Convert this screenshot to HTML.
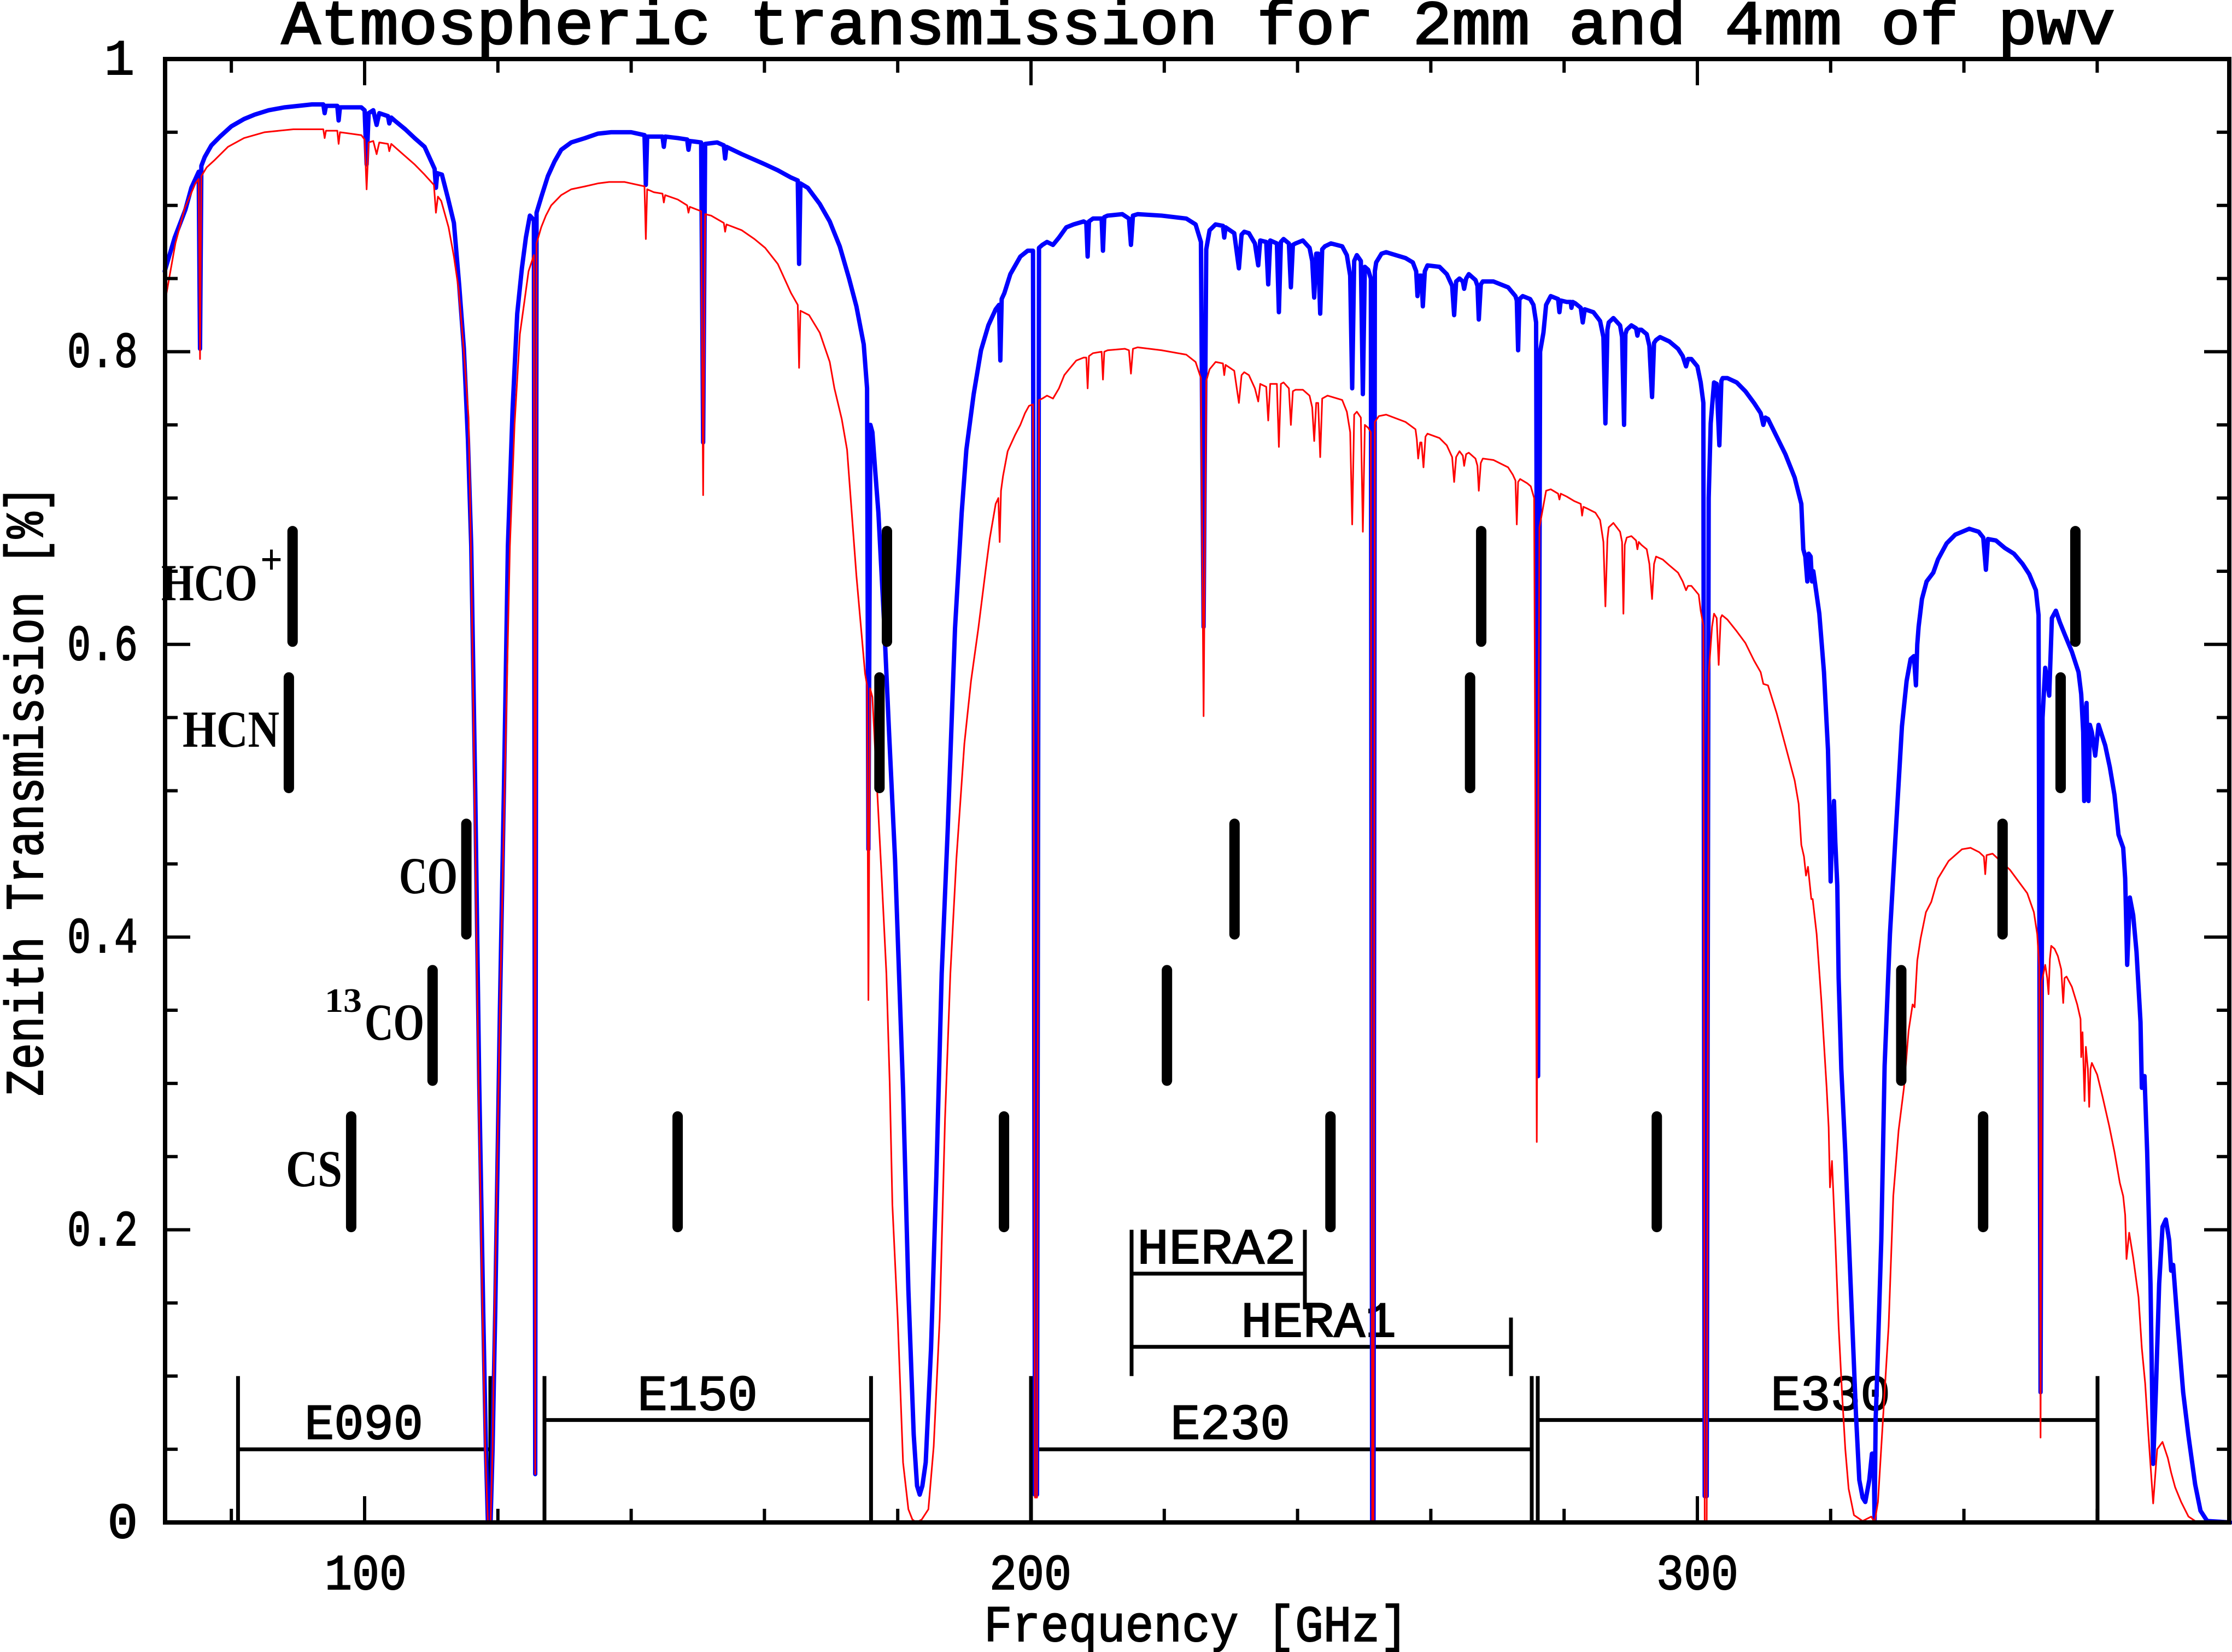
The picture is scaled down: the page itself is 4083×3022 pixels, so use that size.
<!DOCTYPE html>
<html>
<head>
<meta charset="utf-8">
<style>
html,body{margin:0;padding:0;background:#fff;}
svg{display:block;}
.mono{font-family:"Liberation Mono","DejaVu Sans Mono",monospace;fill:#000;stroke:#000;stroke-width:2;}
.serif{font-family:"Liberation Serif","DejaVu Serif",serif;font-weight:bold;fill:#000;}
</style>
</head>
<body>
<svg width="4083" height="3022" viewBox="0 0 4083 3022" xmlns="http://www.w3.org/2000/svg">
<rect x="0" y="0" width="4083" height="3022" fill="#fff"/>

<!-- Title -->
<text class="mono" x="515" y="80" font-size="114" style="stroke-width:3" textLength="3354" lengthAdjust="spacingAndGlyphs">Atmospheric transmission for 2mm and 4mm of pwv</text>

<!-- Axis titles -->
<text class="mono" x="1800" y="3002" font-size="94" textLength="776" lengthAdjust="spacingAndGlyphs">Frequency [GHz]</text>
<text class="mono" transform="translate(78,2005) rotate(-90)" x="0" y="0" font-size="98" textLength="1117" lengthAdjust="spacingAndGlyphs">Zenith Transmission [%]</text>

<!-- Y tick labels -->
<g class="mono" font-size="92" text-anchor="end">
<text x="246" y="136">1</text>
<text x="252" y="671" textLength="129" lengthAdjust="spacingAndGlyphs">0.8</text>
<text x="252" y="1207" textLength="129" lengthAdjust="spacingAndGlyphs">0.6</text>
<text x="252" y="1742" textLength="129" lengthAdjust="spacingAndGlyphs">0.4</text>
<text x="252" y="2278" textLength="129" lengthAdjust="spacingAndGlyphs">0.2</text>
<text x="252" y="2813">0</text>
</g>
<!-- X tick labels -->
<g class="mono" font-size="92" text-anchor="middle">
<text x="669" y="2907" textLength="150" lengthAdjust="spacingAndGlyphs">100</text>
<text x="1885" y="2907" textLength="150" lengthAdjust="spacingAndGlyphs">200</text>
<text x="3105" y="2907" textLength="150" lengthAdjust="spacingAndGlyphs">300</text>
</g>

<!-- Receiver brackets -->
<path fill="none" stroke="#000" stroke-width="7" d="
M435.4 2517.3V2785M897 2517.3V2785M435.4 2651.2H897
M996 2517.3V2785M1593.4 2517.3V2785M996 2597.6H1593.4
M1886 2517.3V2785M2802 2517.3V2785M1886 2651.2H2802
M2813 2517.3V2785M3837 2517.3V2785M2813 2597.6H3837
M2070 2249.6V2517.3M2070 2329.9H2387M2387 2249.6V2395
M2070 2463.8H2764M2764 2410.2V2517.3"/>
<g class="mono" font-size="92">
<text x="557" y="2632" textLength="217" lengthAdjust="spacingAndGlyphs">E090</text>
<text x="1166" y="2579" textLength="220" lengthAdjust="spacingAndGlyphs">E150</text>
<text x="2141" y="2632" textLength="219" lengthAdjust="spacingAndGlyphs">E230</text>
<text x="3239" y="2579" textLength="219" lengthAdjust="spacingAndGlyphs">E330</text>
<text x="2080" y="2311" textLength="291" lengthAdjust="spacingAndGlyphs">HERA2</text>
<text x="2270" y="2445" textLength="284" lengthAdjust="spacingAndGlyphs">HERA1</text>
</g>

<!-- Curves -->
<g transform="matrix(12.19 0 0 -2677 -552 2785)" fill="none" stroke-linejoin="round" stroke-linecap="round">
<polyline vector-effect="non-scaling-stroke" stroke="#0000ff" stroke-width="8" points="70,0.855 71.5,0.878 73.1,0.897 74,0.912 75.1,0.923 75.3,0.802 75.5,0.927 76,0.933 77,0.941 78.3,0.947 80,0.954 81.9,0.959 83.5,0.962 85.6,0.965 88,0.967 92.1,0.969 93.8,0.969 94,0.963 94.2,0.968 95.9,0.968 96.1,0.958 96.3,0.967 99.5,0.967 100,0.965 100.3,0.928 100.6,0.963 101.3,0.965 101.8,0.955 102.2,0.963 103.5,0.961 103.7,0.956 104,0.96 104.5,0.958 106.1,0.952 107.5,0.946 109,0.94 110,0.93 110.5,0.925 110.7,0.912 110.9,0.922 111.6,0.921 112.5,0.905 113.4,0.888 114.2,0.845 114.9,0.802 115.5,0.74 116,0.667 116.6,0.5 117.2,0.3 117.8,0.144 118.2,0.05 118.5,0 118.9,0 119.2,0.05 119.6,0.144 120.3,0.35 120.9,0.5 121.5,0.667 122.2,0.76 122.9,0.826 123.6,0.857 124.2,0.878 124.8,0.893 125.4,0.89 125.6,0.033 125.8,0.895 126.6,0.907 127.5,0.92 128.5,0.93 129.5,0.938 131,0.943 133.1,0.946 135,0.949 137,0.95 140,0.95 142,0.948 142.2,0.914 142.4,0.947 144.7,0.947 144.9,0.94 145.1,0.947 147,0.946 148.4,0.945 148.6,0.938 148.8,0.944 150.5,0.943 150.8,0.738 151.1,0.942 152.9,0.943 153.9,0.941 154.1,0.932 154.3,0.94 156.6,0.935 160.1,0.928 162,0.924 164,0.919 165,0.917 165.2,0.86 165.4,0.915 166.5,0.912 168.3,0.901 169.8,0.889 171.3,0.872 172.7,0.85 173.8,0.831 174.9,0.805 175.4,0.775 175.6,0.46 175.9,0.75 176.2,0.745 176.6,0.72 177.1,0.69 178,0.611 178.7,0.54 179.6,0.453 180.8,0.296 181.6,0.159 182.4,0.06 182.9,0.025 183.3,0.019 183.7,0.025 184.2,0.041 185,0.119 185.8,0.237 186.6,0.375 187.5,0.473 188.6,0.611 189.6,0.69 190.3,0.733 191.4,0.771 192.5,0.801 193.6,0.818 194.7,0.829 195.2,0.832 195.4,0.794 195.6,0.836 196,0.84 196.9,0.853 198.4,0.865 199.5,0.869 200.3,0.869 200.6,0.019 200.9,0.019 201.2,0.871 201.7,0.873 202.4,0.875 203.3,0.873 204.2,0.878 205.3,0.885 206.4,0.887 207.9,0.889 208.3,0.888 208.5,0.865 208.7,0.889 209.3,0.891 210.6,0.891 210.8,0.869 211,0.892 211.5,0.893 213.7,0.894 214.7,0.891 215,0.873 215.3,0.893 216,0.894 219.6,0.893 223.3,0.891 224.7,0.887 225.5,0.875 225.9,0.612 226.3,0.87 226.8,0.883 227.7,0.887 228.8,0.886 229,0.878 229.2,0.885 230.5,0.881 231.2,0.857 231.6,0.88 232,0.882 232.7,0.881 233.6,0.874 234.1,0.859 234.4,0.876 235.3,0.875 235.6,0.846 235.9,0.876 236.9,0.874 237.2,0.827 237.5,0.875 237.9,0.877 238.7,0.874 239,0.844 239.3,0.873 239.7,0.874 240.8,0.876 241.8,0.871 242.2,0.862 242.5,0.837 242.8,0.867 243.1,0.867 243.4,0.826 243.7,0.87 244.1,0.872 245,0.874 246.7,0.872 247.4,0.866 247.9,0.852 248.2,0.775 248.5,0.862 248.9,0.866 249.5,0.862 249.8,0.771 250.1,0.858 250.6,0.856 251,0.85 251.2,0 251.4,0 251.6,0.855 251.8,0.861 252.6,0.867 253.3,0.868 256.2,0.864 257.3,0.861 257.8,0.855 258,0.838 258.3,0.852 258.6,0.852 258.8,0.831 259.1,0.855 259.5,0.859 261.3,0.858 262.4,0.853 263.2,0.845 263.5,0.825 263.8,0.848 264.3,0.85 264.8,0.848 265,0.843 265.3,0.85 265.7,0.853 266.7,0.849 267,0.845 267.2,0.822 267.5,0.846 267.8,0.848 269.4,0.848 271.6,0.844 272.7,0.838 272.9,0.835 273.1,0.801 273.3,0.836 273.8,0.838 274.9,0.836 275.4,0.832 275.8,0.82 276.1,0.305 276.4,0.8 276.9,0.813 277.3,0.832 278,0.838 279.1,0.836 279.3,0.827 279.5,0.835 280.4,0.834 281,0.834 281.1,0.83 281.3,0.834 281.7,0.833 282.5,0.83 282.8,0.82 283.1,0.829 284.4,0.827 285.4,0.821 285.9,0.81 286.2,0.751 286.5,0.815 286.7,0.82 287.4,0.823 288.4,0.818 288.7,0.81 289,0.75 289.2,0.812 289.4,0.815 290.1,0.818 290.8,0.816 291,0.811 291.2,0.815 291.6,0.815 292.4,0.812 292.8,0.804 293.2,0.769 293.5,0.806 293.8,0.808 294.4,0.81 295.8,0.807 297.1,0.802 297.8,0.797 298.3,0.79 298.6,0.795 299.1,0.795 300,0.79 300.5,0.779 300.9,0.765 301.1,0.018 301.4,0.018 301.7,0.7 302,0.751 302.5,0.779 302.9,0.778 303.3,0.736 303.6,0.78 303.8,0.782 304.5,0.782 305.9,0.779 307.2,0.773 308.5,0.765 309.5,0.758 309.9,0.75 310.2,0.755 310.6,0.754 311.9,0.742 313.2,0.73 314.6,0.714 315.6,0.696 315.9,0.665 316.2,0.66 316.5,0.643 316.7,0.662 317,0.66 317.2,0.643 317.4,0.65 318.3,0.621 319,0.581 319.6,0.528 319.8,0.49 320,0.438 320.2,0.47 320.5,0.493 320.7,0.465 321,0.435 321.2,0.372 321.6,0.31 322.2,0.253 323,0.163 323.8,0.074 324.3,0.029 324.8,0.017 325.2,0.014 325.8,0.029 326.2,0.047 326.45,0.047 326.6,0 326.75,0.07 326.9,0.089 327.6,0.193 328.1,0.312 328.7,0.38 328.9,0.402 329.7,0.466 330.7,0.544 331.4,0.575 332,0.59 332.5,0.592 332.8,0.572 333,0.6 333.2,0.612 333.7,0.631 334.4,0.643 335.4,0.649 336.1,0.658 337.4,0.669 338.7,0.675 340.8,0.679 342.2,0.677 342.9,0.673 343.3,0.651 343.6,0.672 344.8,0.671 346.1,0.666 347.5,0.662 348.8,0.655 349.8,0.648 350.8,0.637 351.2,0.62 351.5,0.089 351.8,0.55 352.2,0.584 352.8,0.565 353.2,0.618 353.8,0.623 354.4,0.615 355.2,0.606 356.2,0.595 357.2,0.581 357.6,0.566 357.9,0.54 358.05,0.493 358.2,0.55 358.4,0.56 358.7,0.493 358.9,0.545 359.2,0.54 359.7,0.524 360.2,0.545 361.2,0.531 361.9,0.516 362.6,0.497 363.2,0.47 363.9,0.461 364.2,0.44 364.5,0.381 364.9,0.427 365.4,0.415 365.9,0.39 366.5,0.342 366.7,0.297 367.1,0.305 367.5,0.253 368,0.163 368.4,0.04 368.8,0.089 369.3,0.163 369.8,0.202 370.3,0.207 370.8,0.193 371.1,0.172 371.4,0.176 372.1,0.134 372.9,0.089 373.7,0.059 374.7,0.026 375.5,0.008 376.5,0.001 380,0"/>
<polyline vector-effect="non-scaling-stroke" stroke="#ff0000" stroke-width="3" points="70,0.833 71.6,0.874 73,0.898 74.6,0.915 75.1,0.918 75.3,0.795 75.5,0.92 76.3,0.926 77.5,0.931 79.5,0.94 81.9,0.946 85,0.95 89.3,0.952 93.8,0.952 94,0.946 94.2,0.951 95.9,0.951 96.1,0.942 96.3,0.95 99.5,0.948 100,0.945 100.3,0.911 100.6,0.943 101.3,0.944 101.8,0.935 102.2,0.943 103.5,0.942 103.7,0.937 104,0.942 105.5,0.936 107.5,0.928 109,0.921 110.4,0.914 110.7,0.895 111,0.906 111.5,0.903 112.6,0.885 113.4,0.865 114.1,0.843 114.9,0.8 115.6,0.755 115.95,0.667 116.5,0.5 117.1,0.3 117.7,0.144 118.1,0.05 118.5,0 118.9,0 119.2,0.05 119.5,0.144 120.3,0.35 121,0.5 121.8,0.667 122.5,0.75 123.3,0.812 124,0.835 124.6,0.855 125.4,0.866 125.6,0.033 125.8,0.874 126.5,0.885 127.2,0.893 128,0.9 129.5,0.907 131,0.911 133.1,0.913 135,0.915 136.7,0.916 139,0.916 142,0.913 142.2,0.877 142.4,0.911 143.4,0.909 144.7,0.908 144.9,0.902 145.1,0.907 147,0.904 148.4,0.9 148.6,0.895 148.8,0.899 150.5,0.896 150.8,0.702 151.1,0.894 152,0.893 153.9,0.888 154.1,0.882 154.3,0.887 156.6,0.883 158.5,0.877 160.1,0.871 162,0.86 164,0.84 165,0.832 165.2,0.789 165.4,0.828 166.7,0.825 168.3,0.813 169.8,0.793 170.5,0.775 171.6,0.754 172.4,0.733 173.1,0.69 173.8,0.647 174.5,0.611 175.1,0.58 175.4,0.572 175.6,0.357 175.85,0.57 176.2,0.564 177,0.493 177.6,0.44 178.3,0.375 178.8,0.3 179.2,0.217 180,0.139 180.8,0.041 181.6,0.009 182.2,0.002 182.8,0 183.6,0.002 184.6,0.009 185.4,0.052 186.3,0.139 187.1,0.276 187.9,0.375 188.8,0.453 190,0.532 191,0.575 192.1,0.611 193.2,0.651 193.8,0.672 194.7,0.696 195.1,0.7 195.3,0.67 195.5,0.705 195.8,0.715 196.5,0.732 197.6,0.743 198.4,0.75 199.1,0.758 199.7,0.763 200.3,0.764 200.6,0.017 200.9,0.017 201.2,0.767 201.7,0.768 202.4,0.77 203.3,0.768 204.2,0.775 205,0.784 205.7,0.788 206.8,0.794 207.9,0.796 208.3,0.796 208.5,0.775 208.7,0.797 209.3,0.799 210.6,0.8 210.8,0.781 211,0.8 211.5,0.801 214.1,0.802 214.7,0.801 215,0.785 215.3,0.802 216,0.803 219.6,0.801 223.3,0.798 224.7,0.793 225.5,0.782 225.9,0.551 226.3,0.78 226.8,0.788 227.7,0.793 228.8,0.792 229,0.784 229.2,0.791 230.5,0.787 231.2,0.765 231.6,0.784 232,0.786 232.7,0.784 233.6,0.775 234.1,0.766 234.4,0.778 235.3,0.776 235.6,0.753 235.9,0.778 236.9,0.778 237.2,0.735 237.5,0.778 237.9,0.779 238.7,0.775 239,0.75 239.3,0.773 239.7,0.774 240.8,0.774 241.8,0.77 242.2,0.762 242.5,0.739 242.8,0.765 243.1,0.765 243.4,0.728 243.7,0.768 244.5,0.77 246.7,0.767 247.4,0.759 247.9,0.745 248.2,0.682 248.5,0.757 248.9,0.759 249.5,0.755 249.8,0.677 250.1,0.75 250.6,0.748 251,0.745 251.2,0 251.4,0 251.6,0.752 252.2,0.756 253.3,0.757 256.2,0.752 257.7,0.747 257.9,0.74 258.1,0.727 258.4,0.738 258.6,0.738 258.9,0.721 259.2,0.742 259.5,0.744 261.3,0.741 262.4,0.736 263.2,0.728 263.5,0.711 263.8,0.728 264.3,0.732 264.8,0.729 265,0.722 265.3,0.73 265.7,0.731 266.7,0.727 267,0.722 267.2,0.705 267.5,0.724 267.8,0.727 269.4,0.726 271.6,0.721 272.3,0.716 272.7,0.712 272.9,0.682 273.1,0.711 273.4,0.713 274.5,0.71 275,0.708 275.5,0.7 275.9,0.26 276.3,0.68 276.7,0.69 277.3,0.705 278,0.706 279.1,0.703 279.3,0.699 279.5,0.703 280.4,0.701 281.5,0.698 282.5,0.696 282.7,0.688 282.9,0.694 283.4,0.693 284.7,0.69 285.4,0.685 285.9,0.67 286.2,0.626 286.5,0.672 286.7,0.68 287.4,0.683 288.4,0.677 288.7,0.67 288.9,0.621 289.1,0.668 289.4,0.673 290.1,0.674 290.8,0.671 291,0.665 291.2,0.67 291.6,0.668 292.4,0.665 292.8,0.655 293.2,0.631 293.5,0.655 293.8,0.66 294.8,0.658 295.8,0.654 297.1,0.649 297.8,0.643 298.3,0.637 298.6,0.64 299.1,0.64 300.2,0.634 300.5,0.623 300.9,0.613 301.1,0 301.4,0 301.7,0.58 302.2,0.612 302.5,0.621 302.9,0.618 303.2,0.586 303.5,0.618 303.7,0.62 304.5,0.617 305.9,0.609 307.2,0.601 308.5,0.589 309.5,0.581 309.9,0.573 310.6,0.572 311.9,0.553 313.2,0.531 314.6,0.507 315.2,0.491 315.6,0.463 316,0.455 316.3,0.442 316.6,0.448 317.1,0.426 317.3,0.426 317.9,0.402 318.6,0.357 319.4,0.297 319.7,0.27 319.9,0.229 320.2,0.247 320.7,0.193 321.2,0.134 321.7,0.089 322.2,0.05 322.7,0.023 323.5,0.005 324.8,0.001 326.1,0.004 326.6,0 327.1,0.014 327.9,0.074 328.7,0.134 329.4,0.223 330.2,0.268 331,0.297 331.7,0.336 332.3,0.354 332.6,0.352 333,0.384 333.5,0.399 334.3,0.417 335.1,0.424 336.1,0.44 337.7,0.452 339.7,0.46 341,0.461 342.3,0.458 343,0.455 343.2,0.443 343.4,0.456 344.3,0.457 346.9,0.446 349.5,0.43 350.5,0.417 351,0.402 351.3,0.38 351.5,0.058 351.7,0.37 352.2,0.381 352.5,0.372 352.7,0.361 352.9,0.385 353.1,0.394 353.6,0.392 354.1,0.387 354.6,0.378 354.9,0.355 355.1,0.372 355.4,0.373 356.2,0.366 357,0.354 357.5,0.344 357.6,0.318 357.8,0.335 358.1,0.288 358.3,0.325 358.6,0.31 358.8,0.284 359,0.31 359.2,0.314 360,0.306 360.8,0.291 361.8,0.271 362.6,0.253 363.4,0.232 363.9,0.223 364.2,0.21 364.4,0.18 364.8,0.198 365.4,0.181 366.2,0.154 366.7,0.119 367.2,0.095 367.7,0.059 368.4,0.013 369,0.05 369.8,0.055 370.6,0.044 371.1,0.034 371.7,0.024 372.6,0.014 373.7,0.004 374.7,0.001 380,0"/>
</g>

<!-- Molecular line markers -->
<path fill="none" stroke="#000" stroke-width="19" stroke-linecap="round" d="
M535.2 971.6V1173.8M1622.5 971.6V1173.8M2709.6 971.6V1173.8M3796.5 971.6V1173.8
M528.4 1239.3V1441.5M1608.8 1239.3V1441.5M2689.2 1239.3V1441.5M3769.5 1239.3V1441.5
M853.1 1507V1709.2M2258.3 1507V1709.2M3663.3 1507V1709.2
M791.3 1774.7V1976.9M2134.7 1774.7V1976.9M3478 1774.7V1976.9
M642.4 2042.4V2244.6M1239.6 2042.4V2244.6M1836.6 2042.4V2244.6M2433.8 2042.4V2244.6M3030.8 2042.4V2244.6M3627.7 2042.4V2244.6"/>

<!-- Molecule labels -->
<g class="serif">
<text x="295" y="1098" font-size="95" textLength="176" lengthAdjust="spacingAndGlyphs">HCO</text>
<text x="476" y="1050" font-size="78" textLength="41" lengthAdjust="spacingAndGlyphs">+</text>
<text x="334" y="1366" font-size="95" textLength="177" lengthAdjust="spacingAndGlyphs">HCN</text>
<text x="730" y="1634" font-size="95" textLength="107" lengthAdjust="spacingAndGlyphs">CO</text>
<text x="594" y="1851" font-size="62" textLength="68" lengthAdjust="spacingAndGlyphs">13</text>
<text x="667" y="1902" font-size="95" textLength="109" lengthAdjust="spacingAndGlyphs">CO</text>
<text x="523" y="2170" font-size="95" textLength="103" lengthAdjust="spacingAndGlyphs">CS</text>
</g>

<!-- Axes frame -->
<rect x="302" y="108" width="3776" height="2677" fill="none" stroke="#000" stroke-width="8"/>

<!-- Ticks -->
<path fill="none" stroke="#000" stroke-width="6" d="
M423.2 2785v-25M667 2785v-48M910.8 2785v-25M1154.6 2785v-25M1398.4 2785v-25M1642.2 2785v-25M1886 2785v-48M2129.8 2785v-25M2373.6 2785v-25M2617.4 2785v-25M2861.2 2785v-25M3105 2785v-48M3348.8 2785v-25M3592.6 2785v-25M3836.4 2785v-25
M423.2 108v25M667 108v48M910.8 108v25M1154.6 108v25M1398.4 108v25M1642.2 108v25M1886 108v48M2129.8 108v25M2373.6 108v25M2617.4 108v25M2861.2 108v25M3105 108v48M3348.8 108v25M3592.6 108v25M3836.4 108v25
M302 2651.15h23M302 2517.3h23M302 2383.45h23M302 2249.6h46M302 2115.75h23M302 1981.9h23M302 1848.05h23M302 1714.2h46M302 1580.35h23M302 1446.5h23M302 1312.65h23M302 1178.8h46M302 1044.95h23M302 911.1h23M302 777.25h23M302 643.4h46M302 509.55h23M302 375.7h23M302 241.85h23
M4078 2651.15h-23M4078 2517.3h-23M4078 2383.45h-23M4078 2249.6h-46M4078 2115.75h-23M4078 1981.9h-23M4078 1848.05h-23M4078 1714.2h-46M4078 1580.35h-23M4078 1446.5h-23M4078 1312.65h-23M4078 1178.8h-46M4078 1044.95h-23M4078 911.1h-23M4078 777.25h-23M4078 643.4h-46M4078 509.55h-23M4078 375.7h-23M4078 241.85h-23"/>
</svg>
</body>
</html>
